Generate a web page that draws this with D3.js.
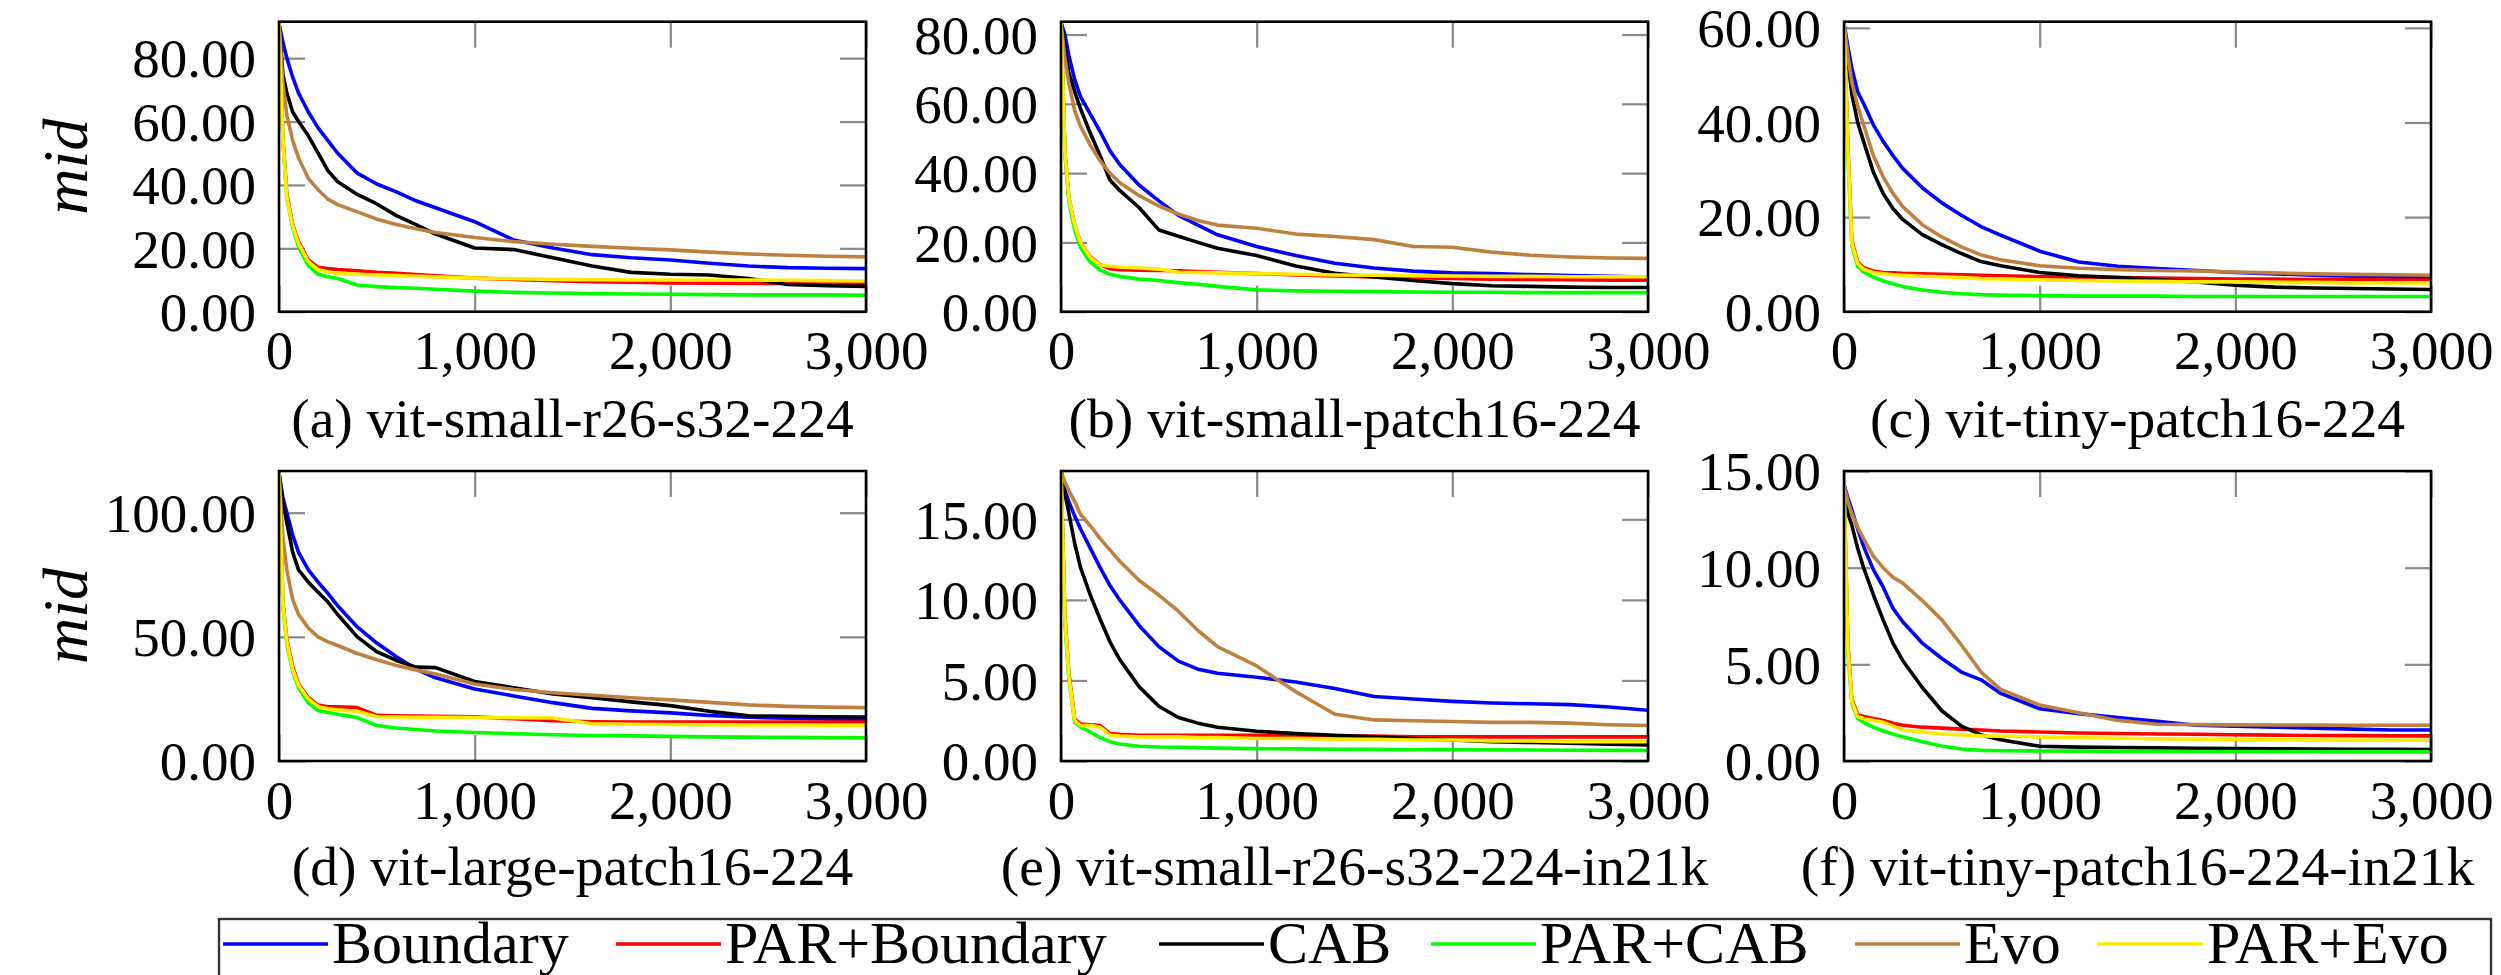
<!DOCTYPE html>
<html>
<head>
<meta charset="utf-8">
<script src="https://cdn.jsdelivr.net/npm/d3@7"></script>
<style>
  html, body { margin: 0; padding: 0; background: #fff; }
  svg { display: block; }
  text { font-family: "Liberation Serif", "Times New Roman", serif; fill: #000; }
</style>
</head>
<body>
<svg id="chart" width="2501" height="975"></svg>
<script>
// ---------------- DATA ----------------
const iterations = [0, 20, 40, 70, 100, 150, 200, 250, 300, 400, 500, 600, 700, 800, 1000, 1200, 1400, 1600, 1800, 2000, 2200, 2400, 2600, 2800, 3000];
const seriesNames = ["Boundary", "PAR+Boundary", "CAB", "PAR+CAB", "Evo", "PAR+Evo"];
const seriesColors = ["#0000ff", "#ff0000", "#000000", "#00ff00", "#bf8040", "#ffea00"];
const xTicks = [0, 1000, 2000, 3000];

// (a) vit-small-r26-s32-224
const aBoundary = [91,85,80,74,69,63,58,54,50,43.7,40.3,37.8,35,32.8,28.4,22.6,20.1,18,17,16.3,15.3,14.4,13.9,13.7,13.6];
const aParBoundary = [91,55,37,27.5,22,16.3,14,13.6,13.3,12.9,12.4,12.1,11.7,11.3,10.6,10.2,9.8,9.5,9.3,9.1,9,8.9,8.9,8.9,8.9];
const aCab = [91,75,69,63,60,55.5,50,44.5,41,37,34,30.3,27.5,24.5,20.1,19.6,17,14.4,12.4,11.8,11.6,10.5,8.6,8.2,8.0];
const aParCab = [91,54,36,26.5,20.5,14.5,11.8,11,10.5,8.4,7.9,7.6,7.4,7.1,6.5,6.1,5.9,5.7,5.6,5.5,5.4,5.3,5.3,5.3,5.2];
const aEvo = [91,72,62,54,48.5,42,38.5,35.5,33.8,31.5,29.2,27.5,26.2,25,23.4,22.1,21.3,20.6,20,19.5,18.8,18.2,17.8,17.5,17.3];
const aParEvo = [91,54,36,27,21.5,15.8,13.3,12.5,12.1,11.8,11.6,11.4,11.2,11,10.6,10.4,10.2,10.1,10,10,10,10,9.9,9.8,9.7];

// (b) vit-small-patch16-224
const bBoundary = [83.5,80,74,67,62,57,52,46.5,42.5,36.5,32,27.8,25,22.2,18.8,16.2,14,12.6,11.7,11.2,11,10.7,10.4,10.2,10];
const bParBoundary = [83.5,46,33,25,20,15.8,13.6,12.4,12.1,12,11.9,11.8,11.6,11.4,11,10.6,10.3,10,9.8,9.6,9.4,9.3,9.2,9.1,9.1];
const bCab = [83.5,76,69,63.5,58.5,51.5,45,38,35,30,23.6,21.8,20,18.3,16.2,13.2,11.1,10,9,8.1,7.5,7.3,7.1,7,7];
const bParCab = [83.5,46,32,23.5,18.5,14.3,12,10.8,10.2,9.4,9,8.4,7.9,7.3,6.3,6,5.9,5.8,5.7,5.6,5.6,5.5,5.5,5.5,5.5];
const bEvo = [83.5,73,66,58,53.5,48,43.5,40,37.2,33.5,30.5,28.2,26.3,25,24.1,22.4,21.7,20.8,18.8,18.6,17.2,16.3,15.8,15.5,15.4];
const bParEvo = [83.5,46,33,25,20,15.6,13.5,13.1,12.9,12.6,12.3,11.4,11.3,11.2,11,10.8,10.6,10.5,10.4,10.3,10.2,10.2,10.1,10.1,10.1];

// (c) vit-tiny-patch16-224
const cBoundary = [61,56,51.5,46.5,44,39.5,36,33,30.3,26.2,23,20.4,18,16.2,12.8,10.5,9.6,9.1,8.7,8.3,8,7.7,7.5,7.3,7.2];
const cParBoundary = [61,35,15,10.5,9.3,8.6,8.3,8.2,8.1,8,7.9,7.8,7.7,7.6,7.4,7.3,7.2,7.1,7,6.9,6.9,6.8,6.8,6.7,6.7];
const cCab = [61,53,46,40,36,29.5,25,21.8,19.5,16.3,14.2,12.3,10.6,9.7,8.3,7.6,7.2,6.8,6.3,5.6,5.2,5,4.9,4.8,4.7];
const cParCab = [61,33,14,9.6,8.4,7.3,6.5,5.9,5.3,4.6,4.1,3.8,3.6,3.5,3.4,3.3,3.3,3.3,3.2,3.2,3.2,3.2,3.2,3.2,3.2];
const cEvo = [61,54,48.5,43.5,39.5,33,28.5,25,22.2,18.4,15.8,13.7,12,11,9.7,9.2,8.9,8.7,8.6,8.4,8.2,8,7.9,7.8,7.7];
const cParEvo = [61,34,14.5,10.2,9,8.3,8,7.8,7.7,7.5,7.4,7.2,7,6.9,6.7,6.6,6.5,6.4,6.3,6.3,6.2,6.2,6.1,6.1,6.1];

// (d) vit-large-patch16-224
const dBoundary = [116,106,100,91,84,77,72,67.5,62.5,54,47.5,42,37,33.5,29,26.2,23.5,21.2,20.2,19.4,18.3,17.6,17.2,16.9,16.7];
const dParBoundary = [116,64,49,38,31,25.5,22.5,21.8,21.8,21.5,18.4,18.2,18.1,18,17.8,17,16.2,15.8,15.7,15.7,15.7,15.7,15.7,15.7,15.7];
const dCab = [116,104,96,84,77,72,68,64,59,50,44,40.5,37.8,37.6,32,29.5,27,25.5,23.8,22.3,20,18.2,18,17.8,17.7];
const dParCab = [116,62,47,36,29.5,23.5,20.3,19.5,18.8,17.5,14.3,13.3,12.7,12.1,11.5,11,10.6,10.3,10.1,9.9,9.7,9.6,9.5,9.4,9.3];
const dEvo = [116,90,77,65,59,53.5,50,48,46.5,43.3,40.8,38.5,36.7,35,31,28.8,27.5,26.5,25.5,24.6,23.6,22.6,22,21.7,21.5];
const dParEvo = [116,63,48,37,30.5,25,22,21,20.6,20,17.8,17.7,17.6,17.6,17.5,17.4,17.3,15,14.8,14.7,14.6,14.5,14.5,14.4,14.4];

// (e) vit-small-r26-s32-224-in21k
const eBoundary = [18,16.8,16.1,15.2,14.4,13.2,12,10.9,10,8.4,7.1,6.2,5.7,5.45,5.2,4.9,4.5,4,3.85,3.7,3.6,3.55,3.5,3.35,3.15];
const eParBoundary = [18,9,5.5,2.6,2.3,2.25,2.2,1.7,1.65,1.6,1.6,1.6,1.6,1.6,1.6,1.55,1.55,1.55,1.5,1.5,1.5,1.5,1.5,1.5,1.5];
const eCab = [18,16.6,15.4,13.5,12,10.3,8.8,7.4,6.3,4.6,3.4,2.7,2.35,2.1,1.85,1.7,1.6,1.5,1.4,1.3,1.2,1.15,1.1,1.05,1.0];
const eParCab = [18,8.6,5.1,2.4,2.1,1.8,1.45,1.2,1.05,0.92,0.87,0.85,0.83,0.8,0.77,0.75,0.73,0.72,0.7,0.7,0.69,0.68,0.67,0.66,0.66];
const eEvo = [18,17.3,16.8,16.1,15.3,14.6,13.8,13.1,12.4,11.2,10.3,9.3,8.1,7.1,5.9,4.3,2.9,2.55,2.5,2.45,2.4,2.4,2.35,2.25,2.2];
const eParEvo = [18,8.8,5.3,2.5,2.2,2.2,2.1,1.6,1.55,1.5,1.5,1.5,1.45,1.45,1.4,1.4,1.35,1.35,1.3,1.3,1.25,1.25,1.2,1.2,1.2];

// (f) vit-tiny-patch16-224-in21k
const fBoundary = [14.3,13.6,13,12,11.1,9.9,9,7.9,7.2,6.1,5.3,4.6,4.2,3.5,2.7,2.45,2.25,2.05,1.85,1.8,1.75,1.7,1.65,1.6,1.6];
const fParBoundary = [14.3,6,3.2,2.4,2.3,2.2,2.1,1.95,1.85,1.75,1.7,1.65,1.6,1.55,1.5,1.45,1.42,1.4,1.38,1.36,1.34,1.32,1.31,1.3,1.3];
const fCab = [14,12.8,12.2,11,10,8.6,7.3,6.1,5.2,3.8,2.6,1.8,1.35,1.1,0.76,0.72,0.7,0.68,0.66,0.64,0.63,0.62,0.61,0.6,0.59];
const fParCab = [14.3,5.6,3.0,2.2,2.0,1.75,1.55,1.4,1.25,1.0,0.78,0.62,0.55,0.53,0.52,0.51,0.5,0.5,0.49,0.49,0.48,0.48,0.47,0.47,0.47];
const fEvo = [14.3,13.4,12.8,12.1,11.5,10.6,10,9.5,9.2,8.3,7.3,6,4.6,3.7,2.9,2.5,2.1,1.9,1.88,1.87,1.86,1.86,1.85,1.85,1.85];
const fParEvo = [14.3,5.8,3.1,2.3,2.2,2.1,2.0,1.8,1.6,1.5,1.4,1.35,1.3,1.28,1.25,1.2,1.18,1.15,1.13,1.12,1.1,1.09,1.08,1.07,1.07];

const captions = ["(a) vit-small-r26-s32-224", "(b) vit-small-patch16-224", "(c) vit-tiny-patch16-224",
                  "(d) vit-large-patch16-224", "(e) vit-small-r26-s32-224-in21k", "(f) vit-tiny-patch16-224-in21k"];
const yMaxes = [91.5, 83.7, 61.3, 116.8, 18.0, 15.0];
const yTickSets = [[0,20,40,60,80], [0,20,40,60,80], [0,20,40,60], [0,50,100], [0,5,10,15], [0,5,10,15]];
const panelSeries = [
  [aBoundary, aParBoundary, aCab, aParCab, aEvo, aParEvo],
  [bBoundary, bParBoundary, bCab, bParCab, bEvo, bParEvo],
  [cBoundary, cParBoundary, cCab, cParCab, cEvo, cParEvo],
  [dBoundary, dParBoundary, dCab, dParCab, dEvo, dParEvo],
  [eBoundary, eParBoundary, eCab, eParCab, eEvo, eParEvo],
  [fBoundary, fParBoundary, fCab, fParCab, fEvo, fParEvo]
];

// ---------------- LAYOUT ----------------
const colLefts = [279, 1061, 1844];
const rowTops = [21.7, 471];
const plotW = 587, plotH = 290;
const captionBaselines = [437, 885];
const tickLen = 26;

const svg = d3.select("#chart");
svg.append("rect").attr("width", 2501).attr("height", 975).attr("fill", "#fff");

panelSeries.forEach((series, i) => {
  const col = i % 3, row = Math.floor(i / 3);
  const left = colLefts[col], top = rowTops[row];
  const x = d3.scaleLinear().domain([0, 3000]).range([0, plotW]);
  const y = d3.scaleLinear().domain([0, yMaxes[i]]).range([plotH, 0]);
  const g = svg.append("g").attr("transform", `translate(${left},${top})`);

  // clip
  const clipId = "clip" + i;
  g.append("clipPath").attr("id", clipId)
    .append("rect").attr("x", 0).attr("y", 0).attr("width", plotW).attr("height", plotH);

  // ticks (inside, grey) via d3 axes
  const tickStyle = sel => {
    sel.select(".domain").remove();
    sel.selectAll(".tick line").attr("stroke", "#8a8a8a").attr("stroke-width", 2.2);
    sel.selectAll(".tick text").remove();
  };
  g.append("g").attr("transform", `translate(0,${plotH})`)
    .call(d3.axisBottom(x).tickValues(xTicks).tickSize(-tickLen)).call(tickStyle);
  g.append("g")
    .call(d3.axisTop(x).tickValues(xTicks).tickSize(-tickLen)).call(tickStyle);
  g.append("g")
    .call(d3.axisLeft(y).tickValues(yTickSets[i]).tickSize(-tickLen)).call(tickStyle);
  g.append("g").attr("transform", `translate(${plotW},0)`)
    .call(d3.axisRight(y).tickValues(yTickSets[i]).tickSize(-tickLen)).call(tickStyle);

  // tick labels
  const xLab = g.append("g").attr("transform", `translate(0,${plotH})`)
    .call(d3.axisBottom(x).tickValues(xTicks).tickSize(0).tickPadding(0).tickFormat(d3.format(",")));
  xLab.select(".domain").remove();
  xLab.selectAll(".tick text").attr("font-size", 55).attr("font-family", "Liberation Serif")
    .attr("fill", "#000").attr("dy", null).attr("y", 57.5).attr("dominant-baseline", "alphabetic");

  const yLab = g.append("g")
    .call(d3.axisLeft(y).tickValues(yTickSets[i]).tickSize(0).tickPadding(0).tickFormat(d3.format(".2f")));
  yLab.select(".domain").remove();
  yLab.selectAll(".tick text").attr("font-size", 55).attr("font-family", "Liberation Serif")
    .attr("fill", "#000").attr("x", -23).attr("dy", "0.34em");

  // lines
  const line = d3.line().x((d, k) => x(iterations[k])).y(d => y(d)).curve(d3.curveLinear);
  const lg = g.append("g").attr("clip-path", `url(#${clipId})`);
  series.forEach((vals, s) => {
    lg.append("path").datum(vals)
      .attr("d", line)
      .attr("fill", "none")
      .attr("stroke", seriesColors[s])
      .attr("stroke-width", 3.6)
      .attr("stroke-linejoin", "round");
  });

  // frame
  g.append("rect").attr("x", 0).attr("y", 0).attr("width", plotW).attr("height", plotH)
    .attr("fill", "none").attr("stroke", "#000").attr("stroke-width", 2.6);

  // caption
  svg.append("text")
    .attr("x", left + plotW / 2).attr("y", captionBaselines[row])
    .attr("text-anchor", "middle").attr("font-size", 55.5)
    .text(captions[i]);

  // y label on first column
  if (col === 0) {
    svg.append("text")
      .attr("transform", `translate(87,${top + plotH / 2}) rotate(-90)`)
      .attr("text-anchor", "middle").attr("font-size", 64).attr("font-style", "italic")
      .text("mid");
  }
});

// ---------------- LEGEND ----------------
const legendX = [223, 616, 1159, 1431, 1855, 2098];
const legend = svg.append("g");
legend.append("rect").attr("x", 219).attr("y", 919).attr("width", 2272).attr("height", 90)
  .attr("fill", "#fff").attr("stroke", "#333").attr("stroke-width", 2.4);
seriesNames.forEach((name, s) => {
  const lx = legendX[s];
  legend.append("line").attr("x1", lx).attr("x2", lx + 105).attr("y1", 944).attr("y2", 944)
    .attr("stroke", seriesColors[s]).attr("stroke-width", 3.6);
  legend.append("text").attr("x", lx + 109).attr("y", 963).attr("font-size", 60).text(name);
});
</script>
</body>
</html>
